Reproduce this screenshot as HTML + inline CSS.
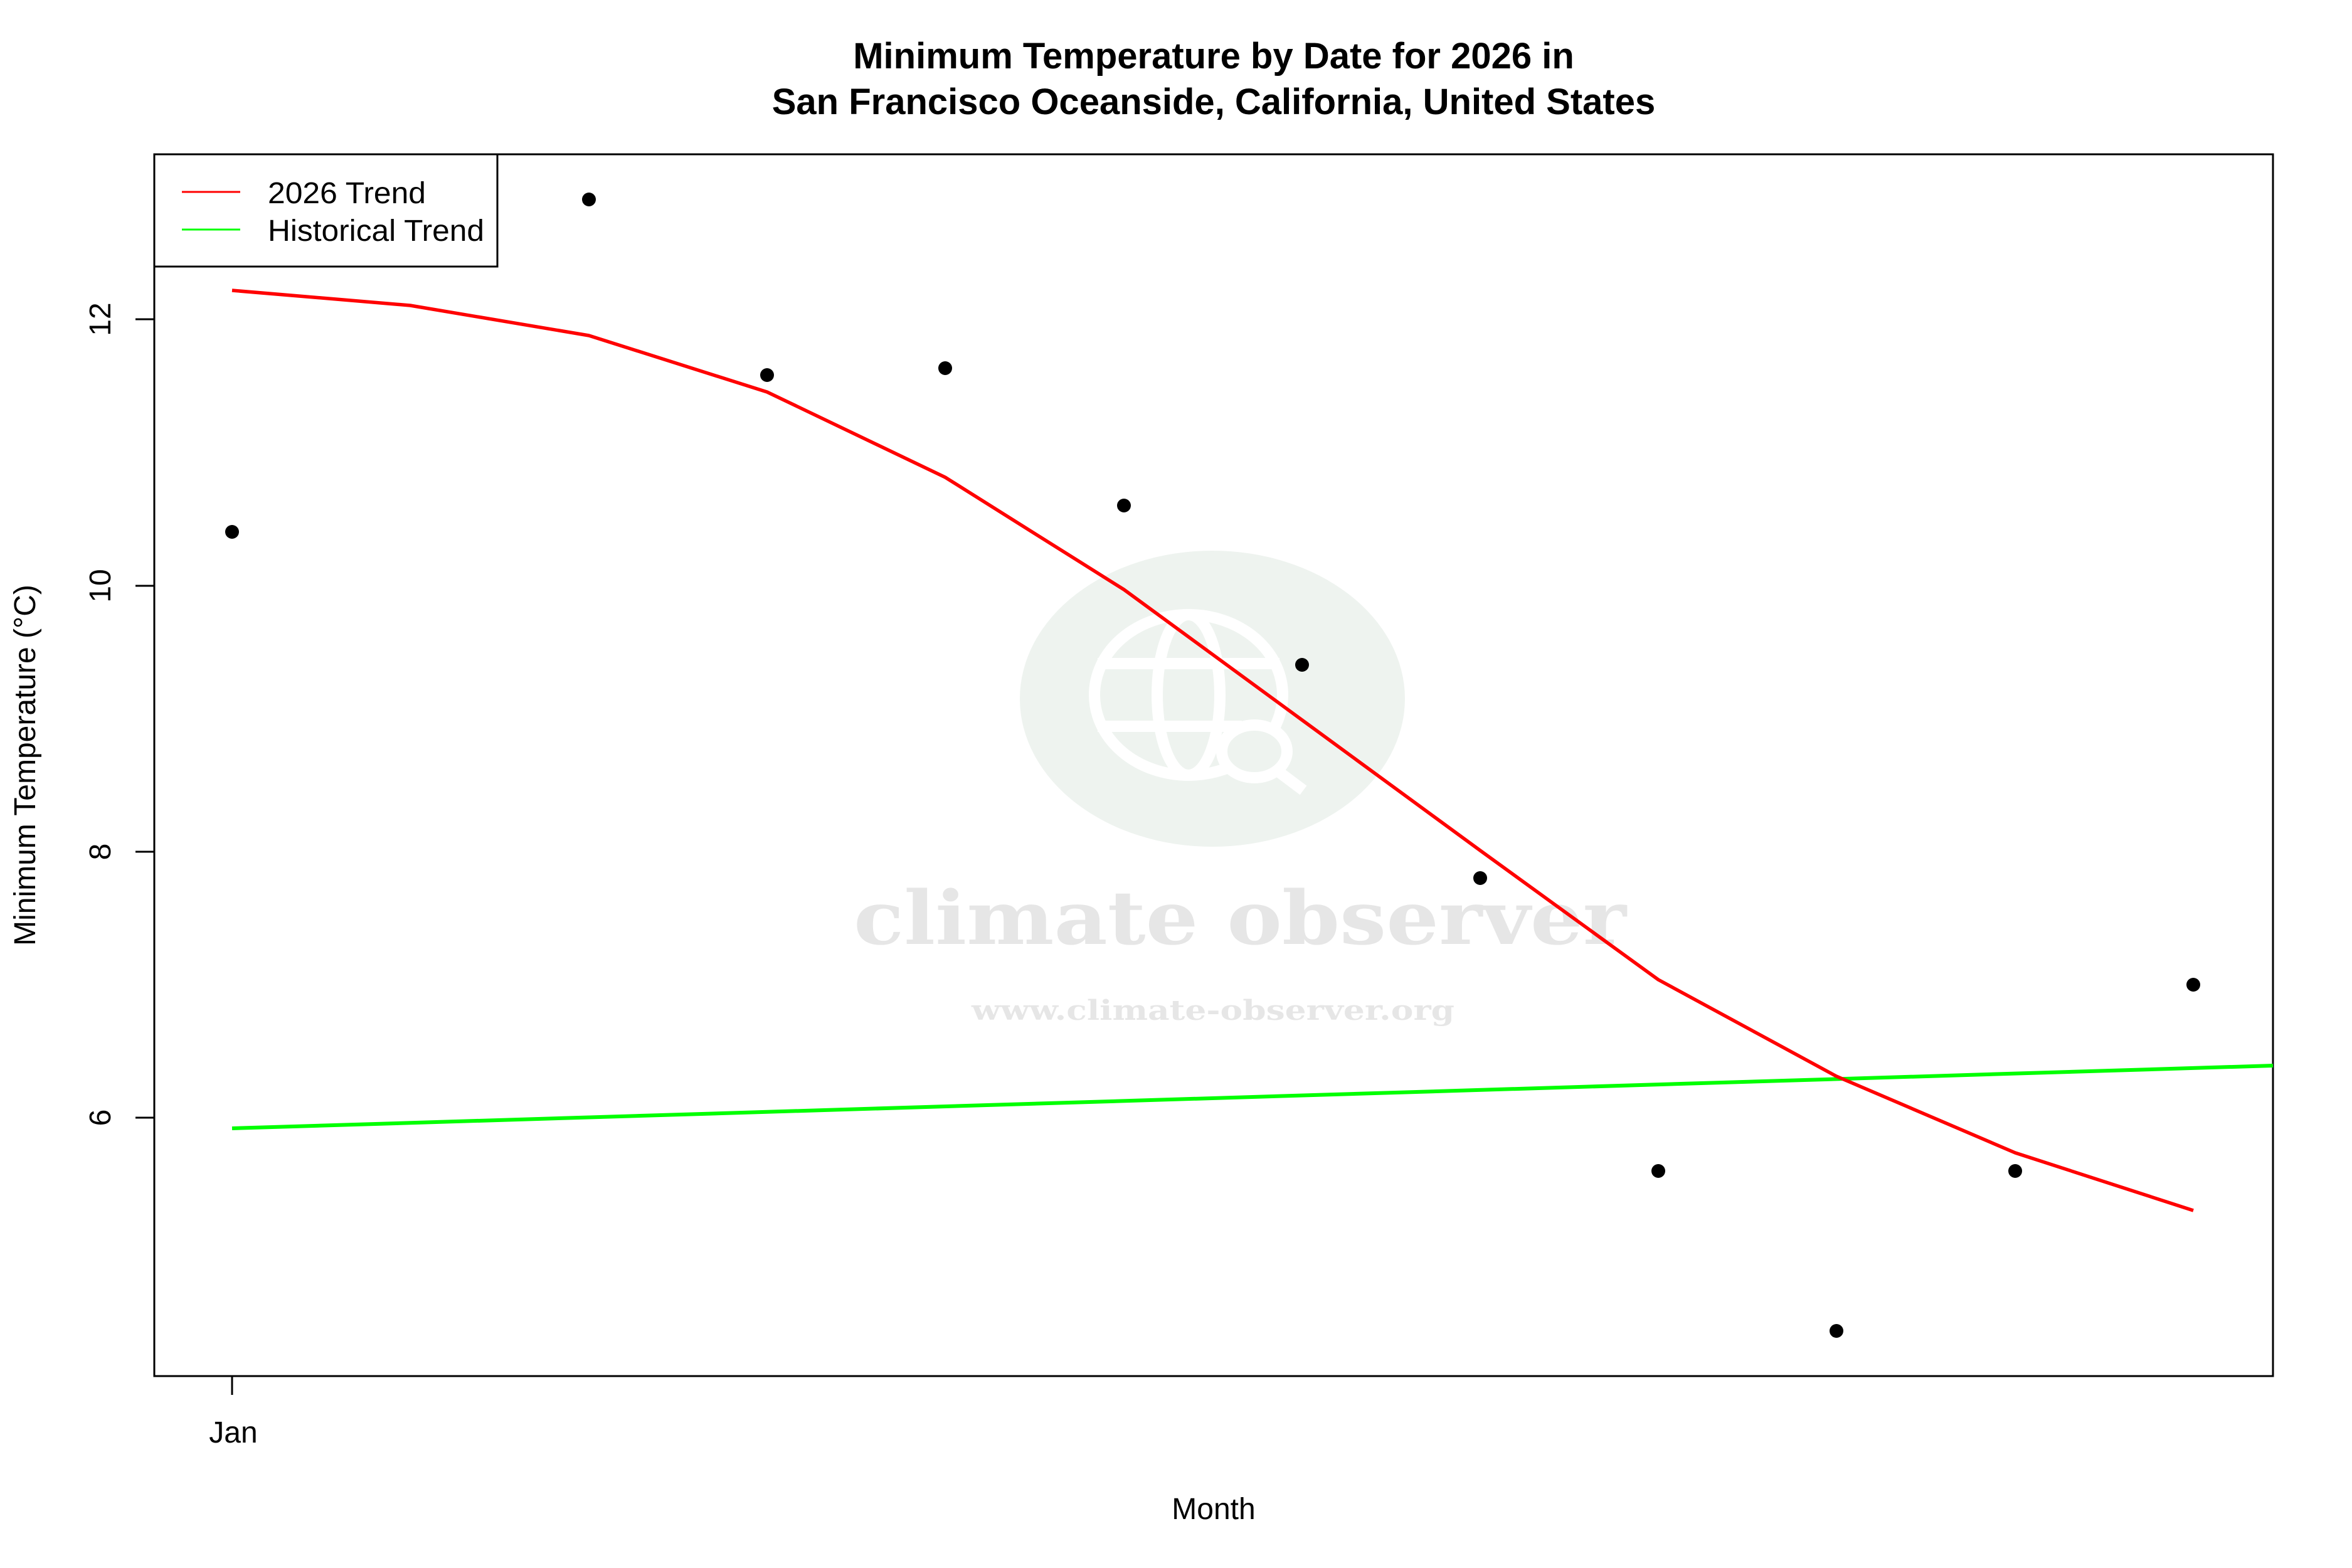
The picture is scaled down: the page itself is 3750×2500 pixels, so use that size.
<!DOCTYPE html>
<html><head><meta charset="utf-8"><style>html,body{margin:0;padding:0;background:#fff}svg{display:block}</style></head>
<body>
<svg width="3750" height="2500" viewBox="0 0 3750 2500" xmlns="http://www.w3.org/2000/svg" font-family="Liberation Sans, sans-serif">
<rect width="3750" height="2500" fill="#fff"/>
<!-- watermark -->
<ellipse cx="1933" cy="1114" rx="307" ry="236" fill="#eef3ef"/>
<g fill="none" stroke="#fff" stroke-width="18" transform="translate(-20,-2)">
<ellipse cx="1915" cy="1110" rx="150" ry="128"/>
<ellipse cx="1915" cy="1110" rx="50" ry="128"/>
<line x1="1770" y1="1060" x2="2060" y2="1060"/>
<line x1="1770" y1="1160" x2="2000" y2="1160"/>
<ellipse cx="2020" cy="1200" rx="52" ry="42" fill="#eef3ef"/>
<line x1="2058" y1="1232" x2="2098" y2="1262"/>
</g>
<text x="1361" y="1505" textLength="1232" lengthAdjust="spacingAndGlyphs" font-family="DejaVu Serif, serif" font-weight="bold" font-size="118" fill="#e6e6e6">climate observer</text>
<text x="1549" y="1626" textLength="770" lengthAdjust="spacingAndGlyphs" font-family="DejaVu Serif, serif" font-weight="bold" font-size="44" fill="#e6e6e6">www.climate-observer.org</text>
<!-- title -->
<text x="1935" y="109" text-anchor="middle" font-weight="bold" font-size="58">Minimum Temperature by Date for 2026 in</text>
<text x="1935" y="182" text-anchor="middle" font-weight="bold" font-size="58">San Francisco Oceanside, California, United States</text>
<!-- axes -->
<rect x="246" y="246" width="3378" height="1948" fill="none" stroke="#000" stroke-width="3"/>
<line x1="370" y1="2194" x2="370" y2="2224" stroke="#000" stroke-width="3"/>
<text x="372" y="2300" text-anchor="middle" font-size="48">Jan</text>
<g stroke="#000" stroke-width="3">
<line x1="216" y1="1782" x2="246" y2="1782"/>
<line x1="216" y1="1358" x2="246" y2="1358"/>
<line x1="216" y1="934" x2="246" y2="934"/>
<line x1="216" y1="509" x2="246" y2="509"/>
</g>
<g font-size="48" text-anchor="middle">
<text transform="translate(176,1782) rotate(-90)">6</text>
<text transform="translate(176,1358) rotate(-90)">8</text>
<text transform="translate(176,934) rotate(-90)">10</text>
<text transform="translate(176,509) rotate(-90)">12</text>
</g>
<text x="1935" y="2422" text-anchor="middle" font-size="48">Month</text>
<text transform="translate(56,1220) rotate(-90)" text-anchor="middle" font-size="48">Minimum Temperature (°C)</text>
<!-- green -->
<line x1="370" y1="1799" x2="3624" y2="1699" stroke="#00ff00" stroke-width="6"/>
<!-- red -->
<polyline fill="none" stroke="#ff0000" stroke-width="5.5" stroke-linejoin="round" points="370,463 654,487 939,535 1223,625 1507,761 1792,940 2076,1148 2360,1356 2644,1562 2928,1716 3213,1838 3497,1930"/>
<!-- points -->
<g fill="#000">
<circle cx="370" cy="848" r="11"/>
<circle cx="939" cy="318" r="11"/>
<circle cx="1223" cy="598" r="11"/>
<circle cx="1507" cy="587" r="11"/>
<circle cx="1792" cy="806" r="11"/>
<circle cx="2076" cy="1060" r="11"/>
<circle cx="2360" cy="1400" r="11"/>
<circle cx="2644" cy="1867" r="11"/>
<circle cx="2928" cy="2122" r="11"/>
<circle cx="3213" cy="1867" r="11"/>
<circle cx="3497" cy="1570" r="11"/>
</g>
<!-- legend -->
<rect x="246" y="246" width="547" height="179" fill="#fff" stroke="#000" stroke-width="3"/>
<line x1="290" y1="306" x2="383" y2="306" stroke="#ff0000" stroke-width="3"/>
<line x1="290" y1="366" x2="383" y2="366" stroke="#00ff00" stroke-width="3"/>
<text x="427" y="324" font-size="48" textLength="252" lengthAdjust="spacingAndGlyphs">2026 Trend</text>
<text x="427" y="384" font-size="48" textLength="345" lengthAdjust="spacingAndGlyphs">Historical Trend</text>
</svg>
</body></html>
